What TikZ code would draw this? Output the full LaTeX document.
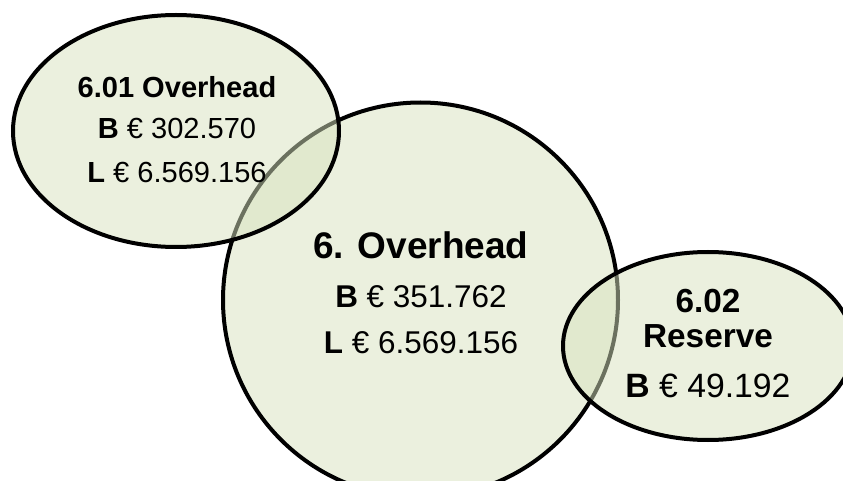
\documentclass[tikz,border=0pt]{standalone}
\usepackage{fontspec}
\setmainfont{Liberation Sans}
\usepackage{tikz}
\tikzstyle{canvas} = [x = 0.75pt, y = -0.75pt]
\definecolor{bubbleColor}{RGB}{215,226,190}
\tikzstyle{bubbleStyle} = [draw=black, fill=bubbleColor, fill opacity=0.5, line width=3pt]
\tikzstyle{bubbleText} = [anchor=base, inner sep=0pt]
\newcommand{\bubble}[4]{\filldraw [bubbleStyle] (#1, #2) ellipse [x radius = #3, y radius = #4];}
\newcommand{\bubbleLine}[5]{\node [bubbleText, font=\fontsize{#4}{#4}\selectfont] (#1) at (#2, #3) {#5};}

\begin{document}
\begin{tikzpicture}[canvas]
            \useasboundingbox (0,0) rectangle (843,481);
            \clip (0,0) rectangle (843,481);
            \bubble{420.5}{300}{197.5}{197.5}
            \bubble{176}{131}{163}{116}
            \bubble{708}{346}{145}{94}

            \bubbleLine{subOverheadTitle}{177}{98}{21.8}{\textbf{6.01 Overhead}}
            \bubbleLine{subOverheadB}{177}{139}{21.8}{\textbf{B} € 302.570}
            \bubbleLine{subOverheadL}{177}{183}{21.8}{\textbf{L} € 6.569.156}

            \bubbleLine{overheadTitle}{421}{258}{27.75}{\textbf{6. Overhead}}
            \bubbleLine{overheadB}{421}{307}{23.6}{\textbf{B} € 351.762}
            \bubbleLine{overheadL}{421}{353}{23.6}{\textbf{L} € 6.569.156}

            \bubbleLine{reserveTitle}{708}{312}{25}{\textbf{6.02}}
            \bubbleLine{reserveName}{708}{347}{25}{\textbf{Reserve}}
            \bubbleLine{reserveB}{708}{397}{25.3}{\textbf{B} € 49.192}
          \end{tikzpicture}
\end{document}
